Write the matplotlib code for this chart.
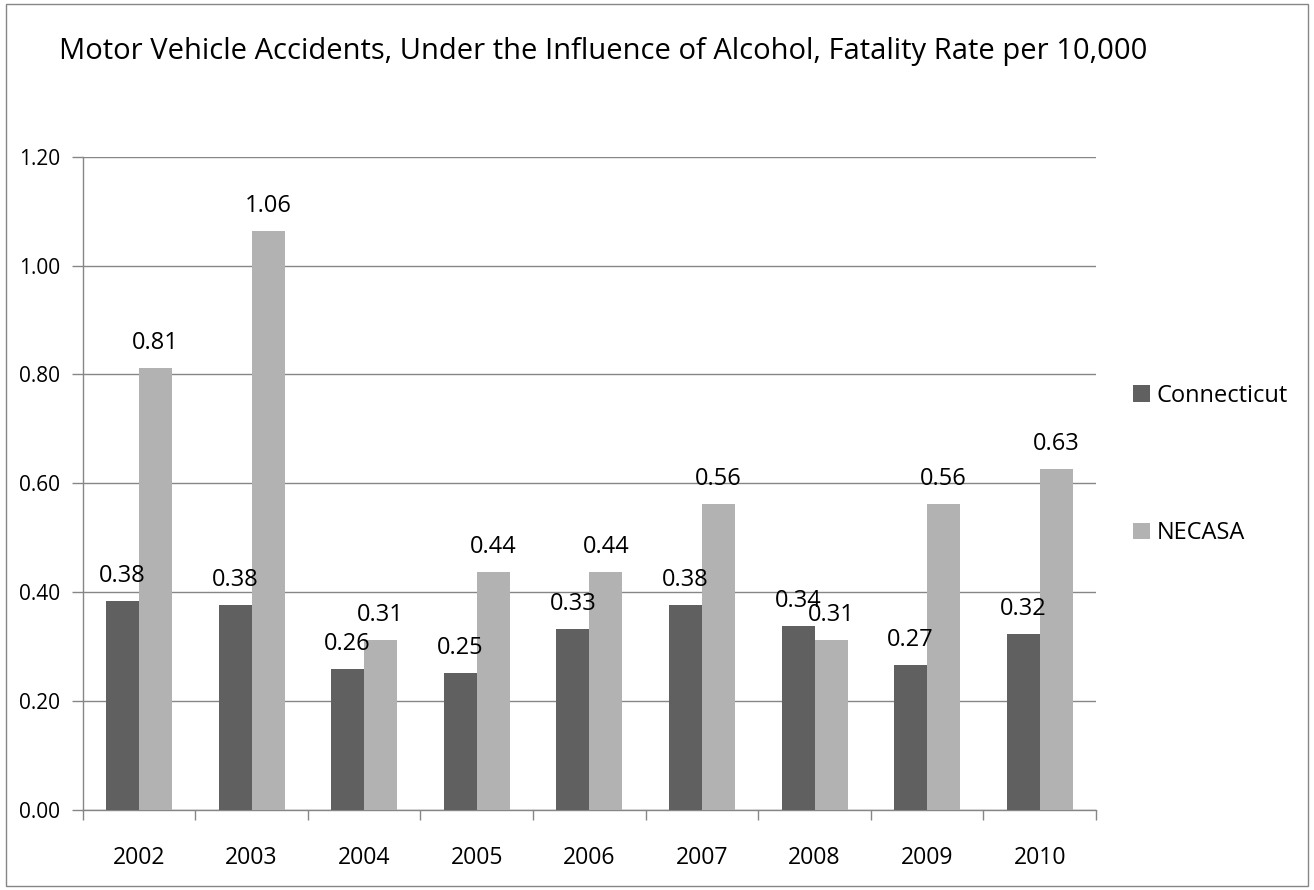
import matplotlib
matplotlib.use("Agg")
import matplotlib.pyplot as plt
import numpy as np
from matplotlib.patches import Rectangle

years = ["2002", "2003", "2004", "2005", "2006", "2007", "2008", "2009", "2010"]
connecticut = [0.384, 0.377, 0.259, 0.252, 0.333, 0.377, 0.338, 0.266, 0.323]
necasa = [0.812, 1.064, 0.312, 0.437, 0.437, 0.562, 0.312, 0.562, 0.626]
ct_labels = ["0.38", "0.38", "0.26", "0.25", "0.33", "0.38", "0.34", "0.27", "0.32"]
ne_labels = ["0.81", "1.06", "0.31", "0.44", "0.44", "0.56", "0.31", "0.56", "0.63"]
yticks = [0.0, 0.2, 0.4, 0.6, 0.8, 1.0, 1.2]

plt.rcParams['font.family'] = ['Open Sans', 'DejaVu Sans']

W, H = 1314, 890
fig = plt.figure(figsize=(W / 100, H / 100), dpi=100)
ax = fig.add_axes([82.7 / W, (H - 810) / H, (1096 - 82.7) / W, (810 - 156.7) / H])

c_ct = "#606060"
c_ne = "#b2b2b2"
grid_c = "#868686"

x = np.arange(len(years))
bw = 0.293
b1 = ax.bar(x - bw / 2, connecticut, bw, color=c_ct, label="Connecticut", zorder=3)
b2 = ax.bar(x + bw / 2, necasa, bw, color=c_ne, label="NECASA", zorder=3)

for rects, labs in ((b1, ct_labels), (b2, ne_labels)):
    for r, lab in zip(rects, labs):
        ax.annotate(lab, (r.get_x() + r.get_width() / 2, r.get_height()),
                    xytext=(0, 13.7), textcoords="offset points",
                    ha="center", va="baseline", fontsize=17, color="black", zorder=5)

ax.set_xlim(-0.5, len(years) - 0.5)
ax.set_ylim(0, 1.2)
ax.set_yticks(yticks)
ax.set_yticklabels([f"{v:.2f}" for v in yticks])
ax.yaxis.grid(True, color=grid_c, linewidth=1.0, zorder=0)
ax.set_axisbelow(True)

ax.set_xticks(x)
ax.set_xticklabels(years)
ax.set_xticks(np.arange(len(years) + 1) - 0.5, minor=True)
ax.tick_params(axis="x", which="major", length=0, pad=26, labelsize=16.6)
ax.tick_params(axis="x", which="minor", length=7, direction="out", color=grid_c, width=1)
ax.tick_params(axis="y", length=8, direction="out", color=grid_c, width=1, pad=8, labelsize=15)

for s in ["top", "right"]:
    ax.spines[s].set_visible(False)
for s in ["left", "bottom"]:
    ax.spines[s].set_color(grid_c)
    ax.spines[s].set_linewidth(1.0)

fig.text(603 / W, 1 - 52 / H, "Motor Vehicle Accidents, Under the Influence of Alcohol, Fatality Rate per 10,000",
         ha="center", va="center", fontsize=21)

leg = ax.legend(loc="upper left", bbox_to_anchor=(1133 / W, 1 - 384 / H), bbox_transform=fig.transFigure,
                frameon=False, fontsize=17, labelspacing=4.8, handlelength=0.7, handleheight=0.7,
                handletextpad=0.3, borderpad=0, borderaxespad=0)

fig.patches.append(Rectangle((6 / W, 4 / H), (1308 - 6) / W, (886 - 4) / H, transform=fig.transFigure,
                             fill=False, edgecolor="#868686", linewidth=1.0))

fig.savefig("out.png", dpi=100)
